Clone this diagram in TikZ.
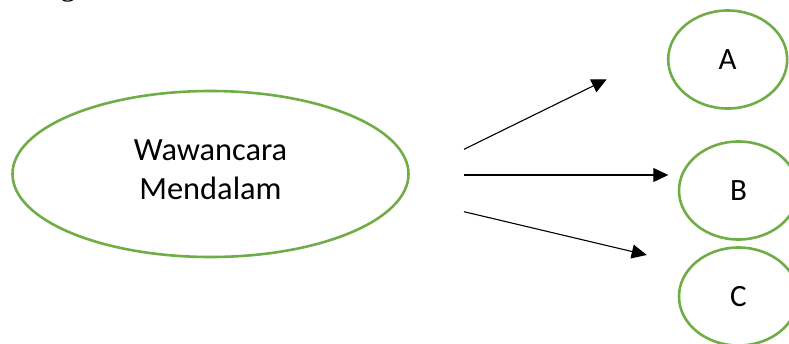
\documentclass[tikz,border=0pt]{standalone}
\usepackage{fontspec}
\setmainfont{Carlito}
\newfontfamily\serifbody{Liberation Serif}
\usetikzlibrary{shapes.geometric,arrows.meta}
\definecolor{offgreen}{RGB}{112,173,71}
\tikzset{
  bubble/.style={ellipse, draw=offgreen, line width=2.6pt, inner sep=0pt, font=\fontsize{31}{36}\selectfont},
  linkarrow/.style={line width=1.1pt, -{Triangle[length=15pt,width=14pt]}},
  bigtext/.style={align=center, font=\fontsize{32.4}{39}\selectfont, inner sep=0pt}
}
\begin{document}
\begin{tikzpicture}[x=1pt,y=-1pt]
\useasboundingbox (0,0) rectangle (789,343);
% clipped line of body text at the top
\node[anchor=base west, inner sep=0pt, font=\serifbody\fontsize{31}{36}\selectfont] (intro) at (5,-4.5) {sebagai berikut:};
% main ellipse
\node[bubble, minimum width=396pt, minimum height=166pt] (main) at (210.5,174) {};
\node[bigtext] (mainlabel) at (210.5,169.5) {Wawancara\\Mendalam};
% right ellipses
\node[bubble, minimum width=119pt, minimum height=98pt] (A) at (727.7,59.5) {A};
\node[bubble, minimum width=119pt, minimum height=98pt] (B) at (738.5,190.5) {B};
\node[bubble, minimum width=119pt, minimum height=98pt] (C) at (738.5,296.5) {C};
% arrow end points
\coordinate (s1) at (464,149.3);
\coordinate (t1) at (606.7,79.3);
\coordinate (s2) at (464,175);
\coordinate (t2) at (668.3,175);
\coordinate (s3) at (464,211.7);
\coordinate (t3) at (646.7,255);
\draw[linkarrow] (s1) -- (t1);
\draw[linkarrow] (s2) -- (t2);
\draw[linkarrow] (s3) -- (t3);
\end{tikzpicture}
\end{document}
